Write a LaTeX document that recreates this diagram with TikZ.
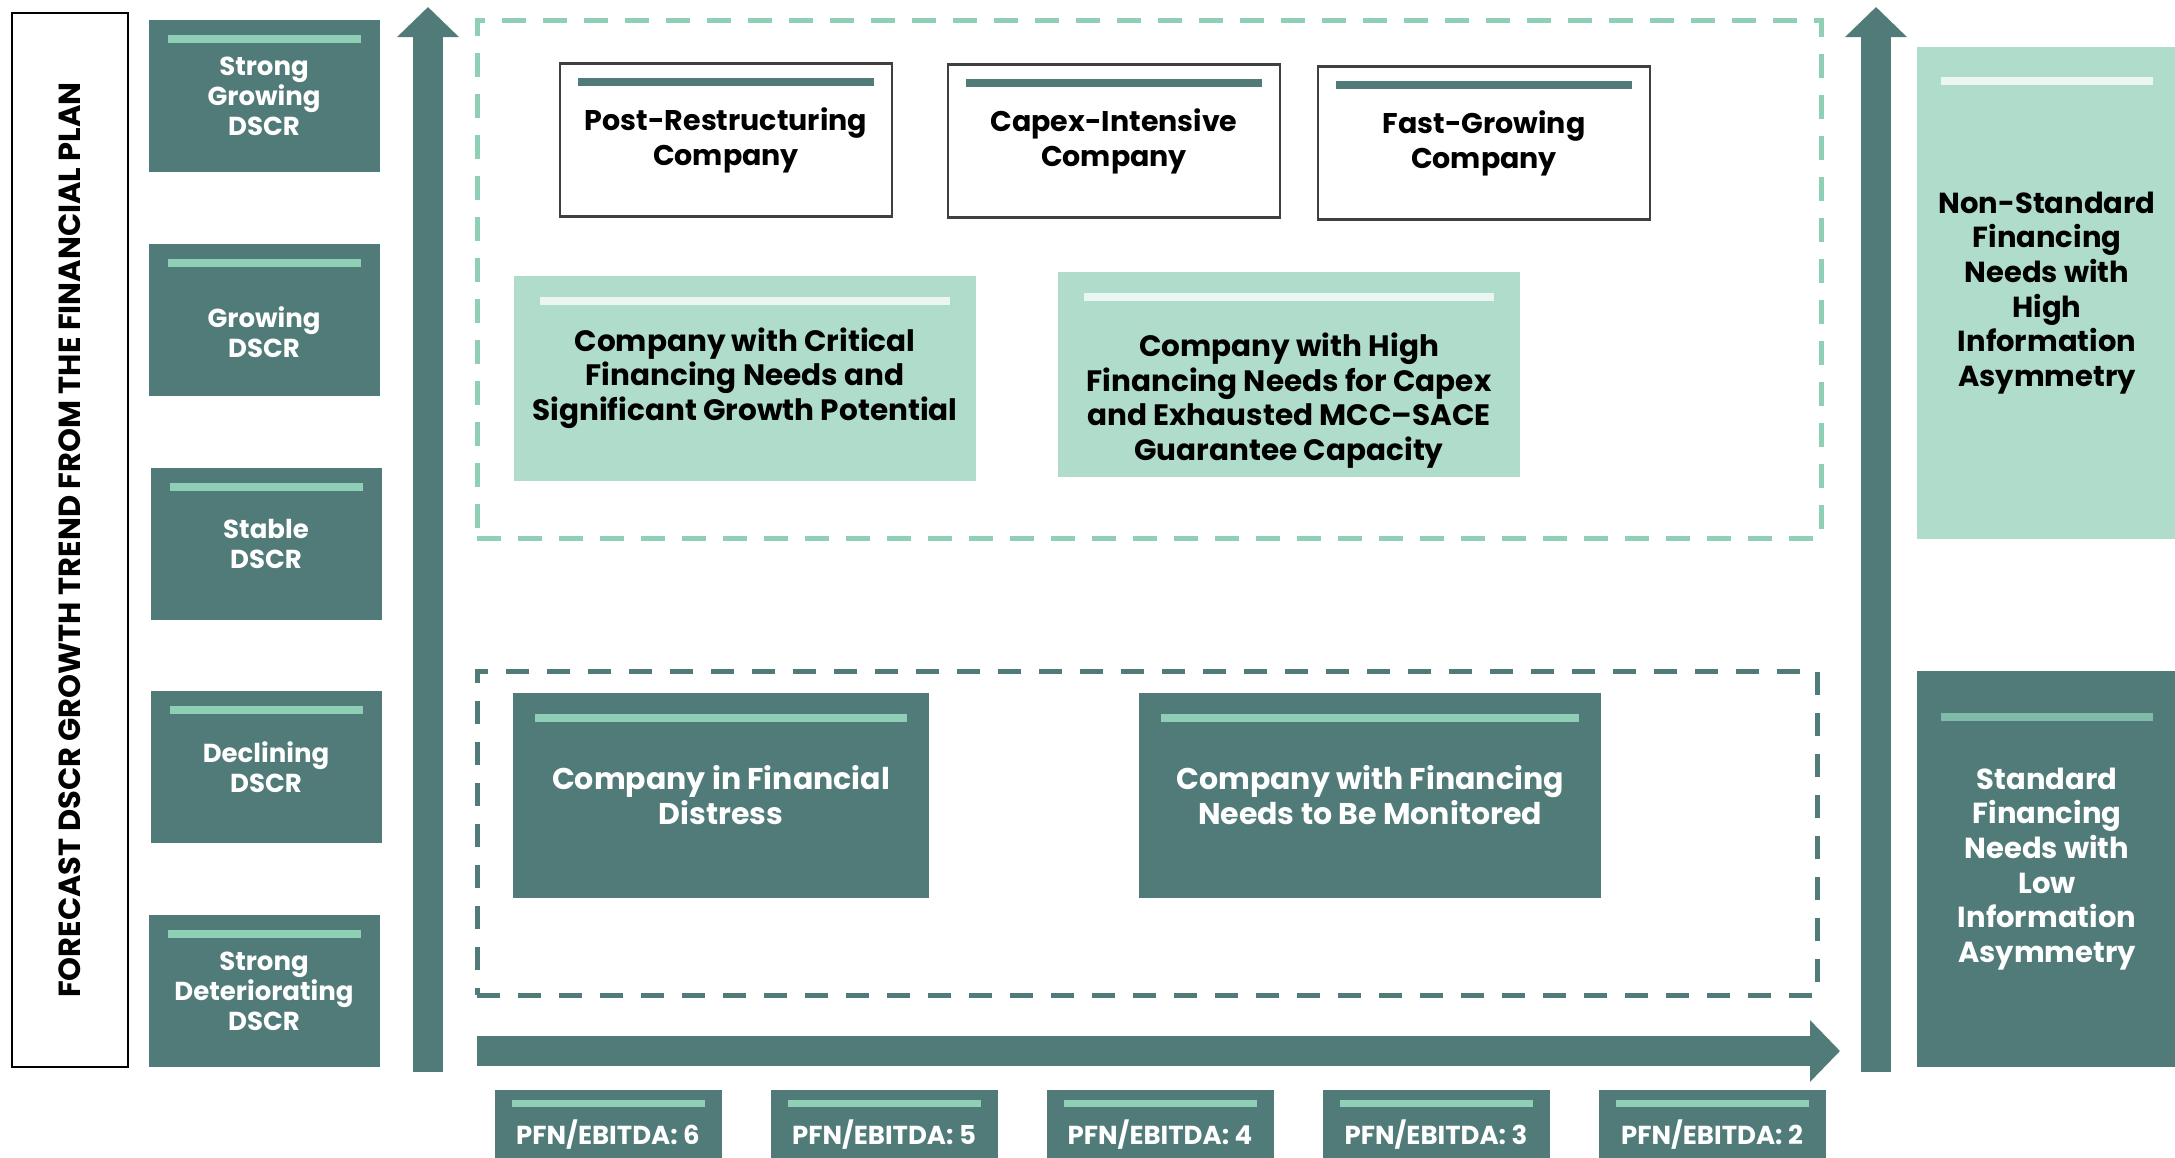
\documentclass[tikz,border=0pt]{standalone}
\usepackage{fontspec}
\setmainfont{Poppins}
\usetikzlibrary{arrows.meta}

\definecolor{deepteal}{HTML}{507B78}
\definecolor{mint}{HTML}{8FCFB6}
\definecolor{palegreen}{HTML}{AFDCCB}
\definecolor{barwhite}{HTML}{EBF5F1}
\definecolor{stdbar}{HTML}{7FBBA8}
\definecolor{framegray}{HTML}{404040}

\begin{document}
\begin{tikzpicture}[
  x=1pt, y=-1pt,
  every node/.style={inner sep=0pt, outer sep=0pt, align=center},
  topbar/.style n args={4}{path picture={
    \fill[#1] ([shift={(#2pt,-#3pt)}]path picture bounding box.north west)
      rectangle ([shift={(-#2pt,-#3pt-#4pt)}]path picture bounding box.north east);}},
  titlebox/.style={draw=black, line width=2.5pt, rotate=90, minimum width=1054pt, minimum height=116pt,
    font=\bfseries\fontsize{30.5}{34}\selectfont},
  dscrbox/.style={fill=deepteal, text=white, minimum width=231pt, minimum height=152pt,
    font=\bfseries\fontsize{26}{30}\selectfont, topbar={mint}{19}{15}{8}},
  typebox/.style={draw=framegray, line width=2.5pt, fill=white, minimum width=332pt, minimum height=153pt,
    font=\bfseries\fontsize{28.5}{35}\selectfont, topbar={deepteal}{18}{14}{8}},
  needbox/.style={fill=palegreen, minimum width=462pt, minimum height=205pt,
    font=\bfseries\fontsize{29.5}{34.5}\selectfont, topbar={barwhite}{26}{21}{8}},
  watchbox/.style={fill=deepteal, text=white, minimum height=205pt,
    font=\bfseries\fontsize{30}{35}\selectfont, topbar={mint}{22}{21}{8}},
  sidebox/.style={minimum width=260pt, font=\bfseries\fontsize{29}{34.7}\selectfont},
  pfnbox/.style={fill=deepteal, text=white, minimum width=227pt, minimum height=90pt,
    font=\bfseries\fontsize{26}{30}\selectfont, topbar={mint}{17}{10}{7}},
  upframe/.style={draw=mint, line width=5pt, dash pattern=on 24pt off 17pt, minimum width=1344pt, minimum height=518pt},
  lowframe/.style={draw=deepteal, line width=5pt, dash pattern=on 23pt off 18pt, minimum width=1340pt, minimum height=324pt},
  axis/.style={draw=deepteal, line width=30pt, -{Triangle[width=60pt,length=30pt]}}
]
\useasboundingbox[fill=white] (0,0) rectangle (2175,1157);

% left title
\node[titlebox] (title) at (70,540) {FORECAST DSCR GROWTH TREND FROM THE FINANCIAL PLAN};

% DSCR scale
\node[dscrbox] (dscr1) at (264,96) {Strong\\Growing\\DSCR};
\node[dscrbox, text height=76pt] (dscr2) at (264,320) {Growing\\DSCR};
\node[dscrbox] (dscr3) at (266,544) {Stable\\DSCR};
\node[dscrbox] (dscr4) at (266,767) {Declining\\DSCR};
\node[dscrbox] (dscr5) at (264,991) {Strong\\Deteriorating\\DSCR};

% axes
\coordinate (ybot) at (428,1072);
\coordinate (ytop) at (428,7);
\coordinate (xleft) at (477,1051);
\coordinate (xright) at (1840,1051);
\coordinate (rbot) at (1876,1072);
\coordinate (rtop) at (1876,7);
\draw[axis] (ybot) -- (ytop);
\draw[axis] (xleft) -- (xright);
\draw[axis] (rbot) -- (rtop);

% groups
\node[upframe] (upper) at (1149,279) {};
\node[lowframe] (lower) at (1147,833) {};

% upper group
\node[typebox] (post) at (726,140) {Post-Restructuring\\Company};
\node[typebox] (capex) at (1114,141) {Capex-Intensive\\Company};
\node[typebox] (fast) at (1484,143) {Fast-Growing\\Company};
\node[needbox] (critical) at (745,378) {Company with Critical\\Financing Needs and\\Significant Growth Potential};
\node[needbox, text height=180pt] (mcc) at (1289,374) {Company with High\\Financing Needs for Capex\\and Exhausted MCC--SACE\\Guarantee Capacity};

% lower group
\node[watchbox, minimum width=416pt] (distress) at (721,795) {Company in Financial\\Distress};
\node[watchbox, minimum width=462pt] (monitor) at (1370,795) {Company with Financing\\Needs to Be Monitored};

% right side
\node[sidebox, fill=palegreen, minimum height=492pt, topbar={barwhite}{24}{30}{8}] (nonstd) at (2047,293)
  {Non-Standard\\Financing\\Needs with\\High\\Information\\Asymmetry};
\node[sidebox, fill=deepteal, text=white, minimum height=396pt, topbar={stdbar}{24}{42}{8}] (std) at (2047,869)
  {Standard\\Financing\\Needs with\\Low\\Information\\Asymmetry};

% PFN/EBITDA scale
\node[pfnbox] (pfn6) at (608,1135) {PFN/EBITDA: 6};
\node[pfnbox] (pfn5) at (884,1135) {PFN/EBITDA: 5};
\node[pfnbox] (pfn4) at (1160,1135) {PFN/EBITDA: 4};
\node[pfnbox] (pfn3) at (1436,1135) {PFN/EBITDA: 3};
\node[pfnbox] (pfn2) at (1712,1135) {PFN/EBITDA: 2};
\end{tikzpicture}
\end{document}
